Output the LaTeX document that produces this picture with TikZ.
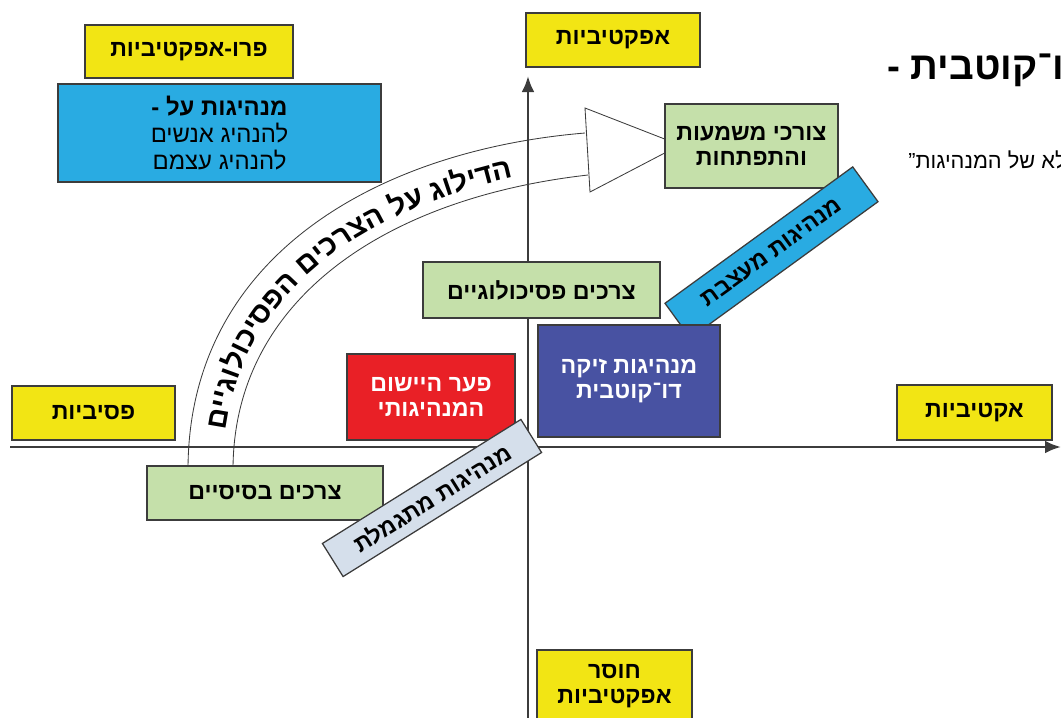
\documentclass[tikz,border=0pt]{standalone}
\usepackage{fontspec}
\usetikzlibrary{arrows.meta, decorations.text}
\TeXXeTstate=1
\newfontfamily\hebfont[Script=Hebrew]{Liberation Sans}
\newcommand{\rl}[1]{\beginR#1\endR}
\definecolor{boxyellow}{HTML}{F2E514}
\definecolor{boxgreen}{HTML}{C5E0AA}
\definecolor{boxcyan}{HTML}{29ABE2}
\definecolor{boxpurple}{HTML}{4852A2}
\definecolor{boxred}{HTML}{E92026}
\definecolor{boxsteel}{HTML}{D5DFEB}
\definecolor{boxline}{HTML}{3C3C3C}
\tikzset{box/.style = {draw = boxline, line width = 0.9pt, inner sep = 0pt, align = center, font = \hebfont\bfseries\fontsize{16.5}{18}\selectfont}}
\tikzset{yellowbox/.style = {box, fill = boxyellow}}
\tikzset{greenbox/.style = {box, fill = boxgreen}}
\tikzset{axis/.style = {draw = boxline, line width = 1.8pt, -{Latex[length = 4mm, width = 3.2mm]}}}
\tikzset{band/.style = {draw = boxline, line width = 0.6pt}}

\begin{document}
\begin{tikzpicture}[x = 0.025cm, y = -0.025cm]
	\useasboundingbox (0, 0) rectangle (1061, 718);
	\clip (0, 0) rectangle (1061, 718);

	\coordinate (west) at (10, 447);
	\coordinate (east) at (1061, 447);
	\coordinate (south) at (528, 718);
	\coordinate (north) at (528, 76);
	\draw[axis] (west) to (east);
	\draw[axis] (south) to (north);

	\coordinate (outerstart) at (188, 470);
	\coordinate (outerend) at (585, 133);
	\coordinate (innerstart) at (233, 470);
	\coordinate (innerend) at (588, 175);
	\coordinate (textstart) at (223, 470);
	\coordinate (textend) at (587, 165);
	\draw[band] (outerstart) .. controls (188, 255) and (380, 150) .. (outerend);
	\draw[band] (innerstart) .. controls (233, 300) and (385, 198) .. (innerend);
	\path[decorate, decoration = {text along path, text align = {left indent = 28pt},
		text = {|\hebfont\bfseries\fontsize{20.5}{20.5}\selectfont|םייגולוכיספה םיכרצה לע גולידה}}]
		(textstart) .. controls (223, 285) and (383, 190) .. (textend);

	\coordinate (headtop) at (585, 108);
	\coordinate (headtip) at (680, 145);
	\coordinate (headbottom) at (590, 192);
	\draw[band, fill = white] (headtop) -- (headtip) -- (headbottom) -- cycle;

	\node[yellowbox, minimum width = 5.2cm, minimum height = 1.325cm] (pro) at (189, 51.5) {\rl{פרו-אפקטיביות}};
	\node[box, fill = boxcyan, minimum width = 8.075cm, minimum height = 2.45cm, font = \hebfont\fontsize{17}{19.5}\selectfont] (super) at (219.5, 133)
		{\rl{\bfseries מנהיגות על -}\\\rl{להנהיג אנשים}\\\rl{להנהיג עצמם}};
	\node[yellowbox, minimum width = 4.35cm, minimum height = 1.35cm] (effective) at (613, 40) {\rl{אפקטיביות}};
	\node[greenbox, minimum width = 4.325cm, minimum height = 2.1cm] (meaning) at (751.5, 146) {\rl{צורכי משמעות}\\\rl{והתפתחות}};
	\node[greenbox, minimum width = 5.925cm, minimum height = 1.4cm] (psych) at (541.5, 290) {\rl{צרכים פסיכולוגיים}};
	\node[box, fill = boxcyan, rotate = 36, minimum width = 5.8cm, minimum height = 1.075cm] (shaping) at (771.5, 252.5) {\rl{מנהיגות מעצבת}};
	\node[box, fill = boxpurple, text = white, minimum width = 4.55cm, minimum height = 2.8cm] (bipolar) at (629, 381) {\rl{מנהיגות זיקה}\\\rl{דו־קוטבית}};
	\node[box, fill = boxred, text = white, minimum width = 4.2cm, minimum height = 2.15cm] (gap) at (431, 397) {\rl{פער היישום}\\\rl{המנהיגותי}};
	\node[yellowbox, minimum width = 4.075cm, minimum height = 1.35cm] (passive) at (93.5, 413) {\rl{פסיביות}};
	\node[yellowbox, minimum width = 3.875cm, minimum height = 1.375cm] (active) at (974.5, 412.5) {\rl{אקטיביות}};
	\node[greenbox, minimum width = 5.9cm, minimum height = 1.35cm] (basic) at (265, 493) {\rl{צרכים בסיסיים}};
	\node[box, fill = boxsteel, rotate = 32, minimum width = 5.85cm, minimum height = 0.975cm] (rewarding) at (432, 498) {\rl{מנהיגות מתגמלת}};
	\node[yellowbox, minimum width = 3.875cm, minimum height = 1.8cm] (lack) at (614.5, 686) {\rl{חוסר}\\\rl{אפקטיביות}};

	\node[anchor = west, inner sep = 0pt, font = \hebfont\bfseries\fontsize{27.5}{27.5}\selectfont] (title) at (887, 70) {\rl{ו־קוטבית -}};
	\node[anchor = west, inner sep = 0pt, font = \hebfont\fontsize{15.5}{15.5}\selectfont] (quote) at (908, 160) {\rl{לא של המנהיגות”}};
\end{tikzpicture}
\end{document}
